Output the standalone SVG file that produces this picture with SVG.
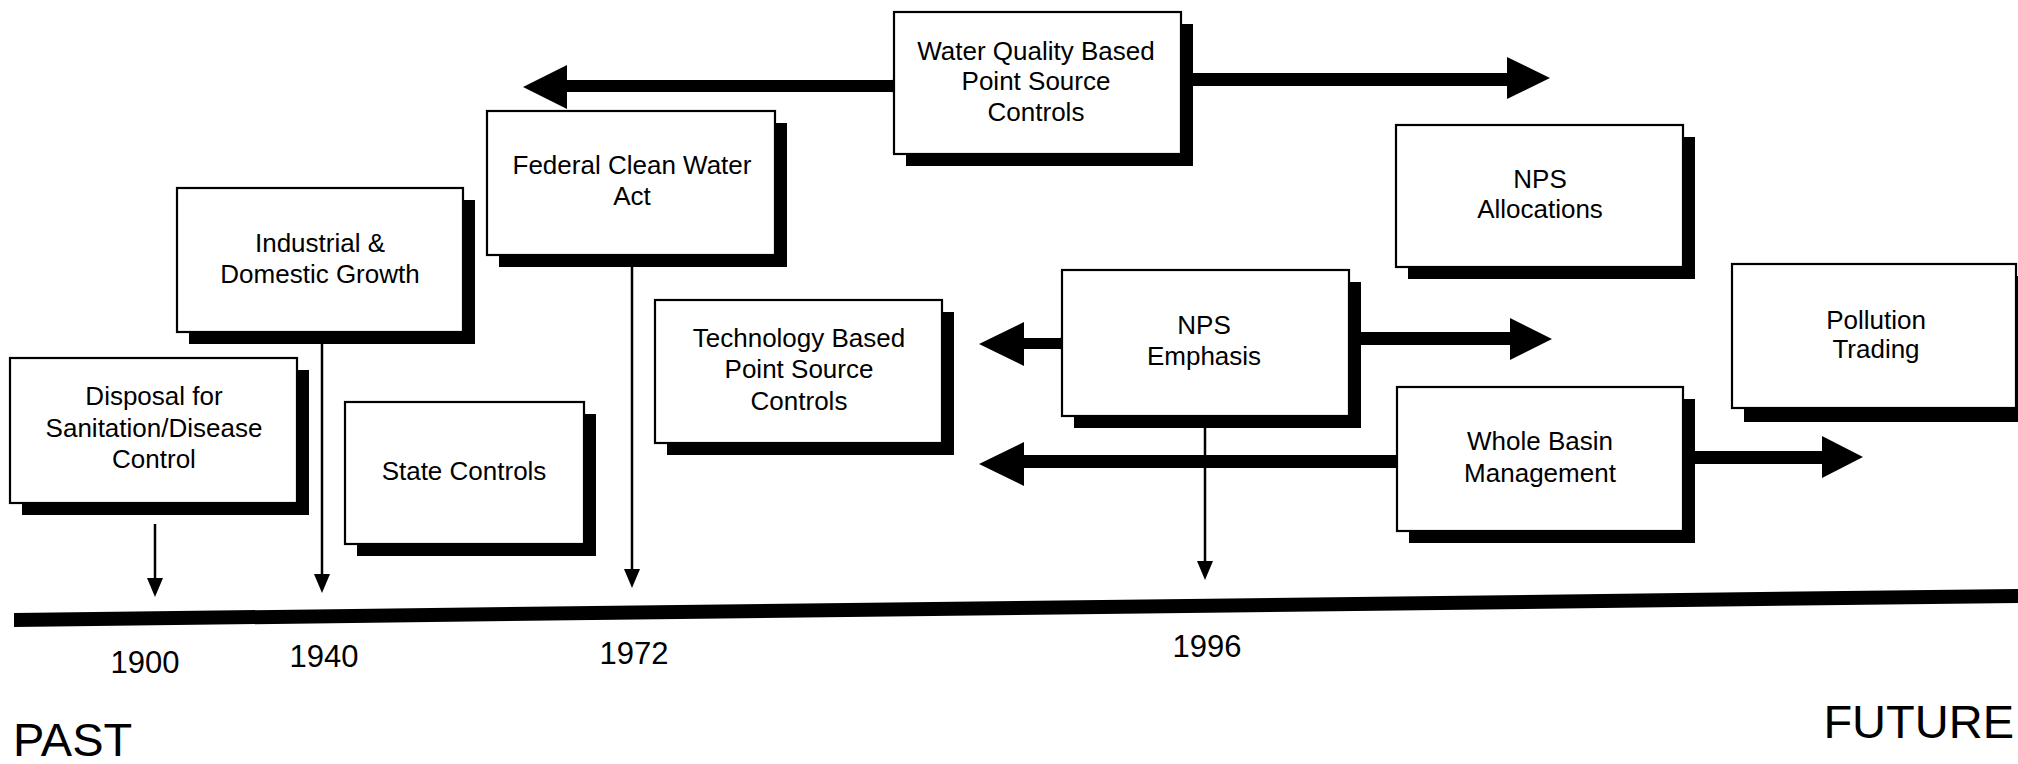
<svg xmlns="http://www.w3.org/2000/svg" width="2018" height="764" viewBox="0 0 2018 764">
<defs>
<style>
.shadow{fill:#000}
.box{fill:#fff;stroke:#000;stroke-width:2.2}
.lbl{font-family:"Liberation Sans",Arial,sans-serif;font-size:26px;fill:#000;text-anchor:middle}
.yr{font-family:"Liberation Sans",Arial,sans-serif;font-size:31px;fill:#000;text-anchor:middle}
.big{font-family:"Liberation Sans",Arial,sans-serif;font-size:47px;fill:#000}
.thin{stroke:#000;stroke-width:2.5;fill:none}
.head{fill:#000}
.fat{fill:#000}
</style>
</defs>
<rect width="2018" height="764" fill="#fff"/>

<g id="timeline">
<polygon points="14,613 2018,589 2018,603 14,627" fill="#000"/>
<text class="yr" x="145" y="673">1900</text>
<text class="yr" x="324" y="667">1940</text>
<text class="yr" x="634" y="664">1972</text>
<text class="yr" x="1207" y="657">1996</text>
<text class="big" x="13" y="756">PAST</text>
<text class="big" x="2014" y="738" text-anchor="end">FUTURE</text>
</g>

<g id="connectors">
<line class="thin" x1="155" y1="524" x2="155" y2="580"/>
<path class="head" d="M147,578 L163,578 L155,597 Z"/>
<line class="thin" x1="322" y1="344" x2="322" y2="576"/>
<path class="head" d="M314,574 L330,574 L322,593 Z"/>
<line class="thin" x1="632" y1="267" x2="632" y2="571"/>
<path class="head" d="M624,569 L640,569 L632,588 Z"/>
<line class="thin" x1="1205" y1="428" x2="1205" y2="563"/>
<path class="head" d="M1197,561 L1213,561 L1205,580 Z"/>

<polygon class="fat" points="894,80 567,80 567,65 523,87 567,109 567,92 894,92"/>
<circle cx="894" cy="86" r="6.5" fill="#000"/>
<polygon class="fat" points="1193,73 1507,73 1507,57 1550,78 1507,99 1507,86 1193,86"/>
<polygon class="fat" points="1062,338 1024,338 1024,322 979,344 1024,366 1024,349 1062,349"/>
<circle cx="1062" cy="343.5" r="6" fill="#000"/>
<polygon class="fat" points="1361,332 1510,332 1510,318 1552,339 1510,360 1510,345 1361,345"/>
<polygon class="fat" points="1397,455 1024,455 1024,442 979,464 1024,486 1024,468 1397,468"/>
<polygon class="fat" points="1695,451 1822,451 1822,436 1863,457 1822,478 1822,464 1695,464"/>
</g>

<g id="disposal">
<rect class="shadow" x="22" y="370" width="287" height="145"/>
<rect class="box" x="10" y="358" width="287" height="145"/>
<text class="lbl" x="154" y="405">Disposal for</text>
<text class="lbl" x="154" y="437">Sanitation/Disease</text>
<text class="lbl" x="154" y="468">Control</text>
</g>

<g id="industrial">
<rect class="shadow" x="189" y="200" width="286" height="144"/>
<rect class="box" x="177" y="188" width="286" height="144"/>
<text class="lbl" x="320" y="252">Industrial &amp;</text>
<text class="lbl" x="320" y="283">Domestic Growth</text>
</g>

<g id="state">
<rect class="shadow" x="357" y="414" width="239" height="142"/>
<rect class="box" x="345" y="402" width="239" height="142"/>
<text class="lbl" x="464" y="480">State Controls</text>
</g>

<g id="federal">
<rect class="shadow" x="499" y="123" width="288" height="144"/>
<rect class="box" x="487" y="111" width="288" height="144"/>
<text class="lbl" x="632" y="174">Federal Clean Water</text>
<text class="lbl" x="632" y="205">Act</text>
</g>

<g id="waterquality">
<rect class="shadow" x="906" y="24" width="287" height="142"/>
<rect class="box" x="894" y="12" width="287" height="142"/>
<text class="lbl" x="1036" y="60">Water Quality Based</text>
<text class="lbl" x="1036" y="90">Point Source</text>
<text class="lbl" x="1036" y="121">Controls</text>
</g>

<g id="technology">
<rect class="shadow" x="667" y="312" width="287" height="143"/>
<rect class="box" x="655" y="300" width="287" height="143"/>
<text class="lbl" x="799" y="347">Technology Based</text>
<text class="lbl" x="799" y="378">Point Source</text>
<text class="lbl" x="799" y="410">Controls</text>
</g>

<g id="allocations">
<rect class="shadow" x="1408" y="137" width="287" height="142"/>
<rect class="box" x="1396" y="125" width="287" height="142"/>
<text class="lbl" x="1540" y="188">NPS</text>
<text class="lbl" x="1540" y="218">Allocations</text>
</g>

<g id="emphasis">
<rect class="shadow" x="1074" y="282" width="287" height="146"/>
<rect class="box" x="1062" y="270" width="287" height="146"/>
<text class="lbl" x="1204" y="334">NPS</text>
<text class="lbl" x="1204" y="365">Emphasis</text>
</g>

<g id="pollution">
<rect class="shadow" x="1744" y="276" width="284" height="146"/>
<rect class="box" x="1732" y="264" width="284" height="144"/>
<text class="lbl" x="1876" y="329">Pollution</text>
<text class="lbl" x="1876" y="358">Trading</text>
</g>

<g id="wholebasin">
<rect class="shadow" x="1409" y="399" width="286" height="144"/>
<rect class="box" x="1397" y="387" width="286" height="144"/>
<text class="lbl" x="1540" y="450">Whole Basin</text>
<text class="lbl" x="1540" y="482">Management</text>
</g>
</svg>
